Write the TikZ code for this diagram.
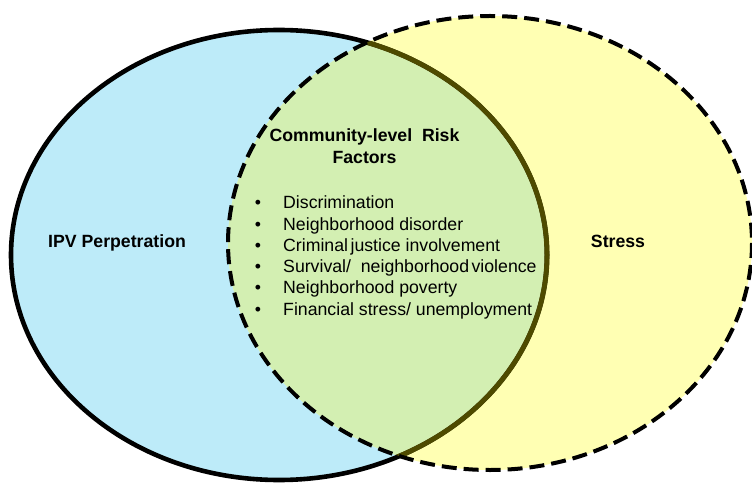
\documentclass[tikz,border=0pt]{standalone}
\usepackage{fontspec}
\setmainfont{Liberation Sans}
\definecolor{blueF}{HTML}{BDEBF9}
\definecolor{yelF}{HTML}{FFFFB3}
\definecolor{greenF}{HTML}{D3EFB2}
\definecolor{oliveL}{HTML}{4E4A00}
\begin{document}
\begin{tikzpicture}[x=1bp,y=-1bp,
  txt/.style={font=\fontsize{17.7bp}{21.2bp}\selectfont, inner sep=0pt},
  btxt/.style={txt, font=\fontsize{17.7bp}{21.2bp}\selectfont\bfseries},
  bul/.style={txt, anchor=base},
  itm/.style={txt, anchor=base west},
  outl/.style={line width=4.6bp},
  dashl/.style={line width=4bp, dash pattern=on 15bp off 7bp}]
\useasboundingbox (0,0) rectangle (752,483);
\clip (0,0) rectangle (752,483);
% fills
\fill[blueF] (279,255) ellipse [x radius=268, y radius=225];
\fill[yelF] (490,243) ellipse [x radius=262, y radius=227];
\begin{scope}
  \clip (279,255) ellipse [x radius=268, y radius=225];
  \fill[greenF] (490,243) ellipse [x radius=262, y radius=227];
\end{scope}
% outlines
\draw[outl, black] (279,255) ellipse [x radius=268, y radius=225];
\begin{scope}
  \clip (490,243) ellipse [x radius=262, y radius=227];
  \draw[outl, oliveL, line width=5bp] (279,255) ellipse [x radius=268, y radius=225];
\end{scope}
\draw[dashl, black] (490,243) ellipse [x radius=262, y radius=227];
% labels
\node[btxt, anchor=base west] (ipv) at (48,248) {IPV Perpetration};
\node[btxt, anchor=base] (stress) at (618,248) {Stress};
\node[btxt, anchor=base] (t1) at (364.5,141.7) {Community-level\ \ Risk};
\node[btxt, anchor=base] (t2) at (364.5,163.3) {Factors};
\node[bul] (b0) at (258,209) {\textbullet};
\node[bul] (b1) at (258,230.2) {\textbullet};
\node[bul] (b2) at (258,251.4) {\textbullet};
\node[bul] (b3) at (258,272.6) {\textbullet};
\node[bul] (b4) at (258,293.8) {\textbullet};
\node[bul] (b5) at (258,315) {\textbullet};
\node[itm] (l0) at (283,209) {Discrimination};
\node[itm] (l1) at (283,230.2) {Neighborhood disorder};
\node[itm] (l2) at (283,251.4) {Criminal\hspace{2.5bp}justice involvement};
\node[itm] (l3) at (283,272.6) {Survival/\ \ neighborhood\hspace{2.5bp}violence};
\node[itm] (l4) at (283,293.8) {Neighborhood poverty};
\node[itm] (l5) at (283,315) {Financial stress/ unemployment};
\end{tikzpicture}
\end{document}
